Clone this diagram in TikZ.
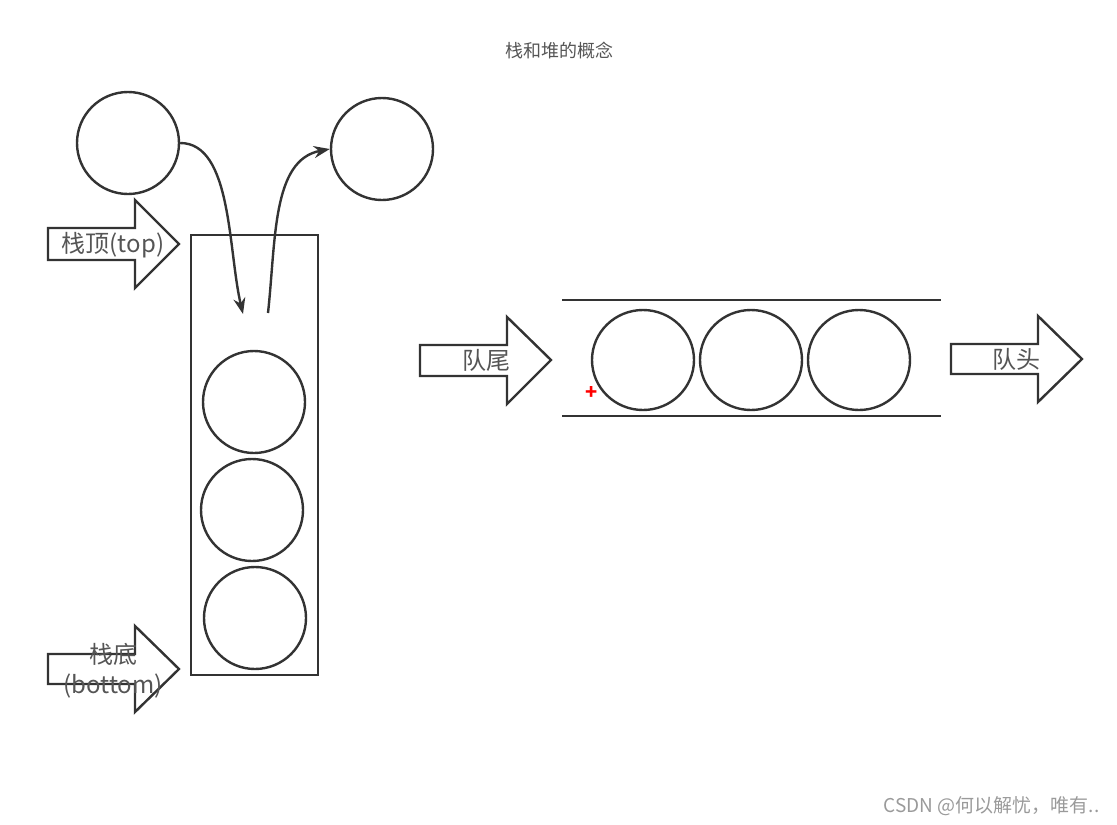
\documentclass[tikz,border=0pt]{standalone}
\usepackage{fontspec}
\setmainfont{Noto Sans CJK SC}
\usetikzlibrary{arrows.meta,shapes.geometric}
\definecolor{ink}{HTML}{333333}
\definecolor{txt}{HTML}{555555}
\definecolor{wm}{HTML}{9A9A9A}
\begin{document}
\begin{tikzpicture}[x=1pt,y=-1pt,
  ball/.style={draw=ink,line width=2.4pt,fill=white},
  barrow/.style={draw=ink,line width=2.4pt,fill=white,line join=miter},
  wall/.style={draw=ink,line width=2.4pt},
  lbl/.style={text=txt,font=\fontsize{24}{27}\selectfont,inner sep=0pt,align=center},
  flow/.style={draw=ink,line width=2.4pt,-{Stealth[length=16pt,width=12pt]}}]
\useasboundingbox (0,0) rectangle (1117,825);
% title
\node[text=txt,font=\fontsize{18}{20}\selectfont] (title) at (559,51) {栈和堆的概念};
% stack
\draw[wall] (191,235) rectangle (318,675);
\node[ball,circle,minimum size=102pt,inner sep=0pt] (s1) at (254,402) {};
\node[ball,circle,minimum size=102pt,inner sep=0pt] (s2) at (252,510) {};
\node[ball,circle,minimum size=102pt,inner sep=0pt] (s3) at (255,618) {};
% push / pop balls
\node[ball,circle,minimum size=102pt,inner sep=0pt] (in) at (128,143) {};
\node[ball,circle,minimum size=102pt,inner sep=0pt] (out) at (382,149) {};
\coordinate (pushend) at (243,314);
\coordinate (popstart) at (268,313);
\draw[flow] (in.east) .. controls (232,143) and (228,250) .. (pushend);
\draw[flow] (popstart) .. controls (276,240) and (272,160) .. (out.west);
% block arrows of stack
\draw[barrow] (48,228)--(135,228)--(135,200)--(179,244)--(135,288)--(135,260)--(48,260)--cycle;
\node[lbl] (top) at (113,245) {栈顶(top)};
\draw[barrow] (48,654)--(135,654)--(135,626)--(179,669)--(135,712)--(135,684)--(48,684)--cycle;
\node[lbl,font=\fontsize{24}{30}\selectfont] (bottom) at (113,671) {栈底\\(bottom)};
% queue
\draw[wall] (562,300) -- (941,300);
\draw[wall] (562,416) -- (941,416);
\node[ball,ellipse,minimum width=102pt,minimum height=100pt,inner sep=0pt] (q1) at (643,360) {};
\node[ball,ellipse,minimum width=102pt,minimum height=100pt,inner sep=0pt] (q2) at (751,360) {};
\node[ball,ellipse,minimum width=102pt,minimum height=100pt,inner sep=0pt] (q3) at (859,360) {};
\draw[barrow] (420,345)--(507,345)--(507,317)--(551,360)--(507,404)--(507,376)--(420,376)--cycle;
\node[lbl] (tail) at (486,360) {队尾};
\draw[barrow] (951,344)--(1038,344)--(1038,316)--(1082,359)--(1038,402)--(1038,374)--(951,374)--cycle;
\node[lbl] (head) at (1016,359) {队头};
\node[text=red,font=\fontsize{20}{20}\selectfont\bfseries,inner sep=0pt] (plus) at (592,393) {+};
% watermark
\node[text=wm,font=\fontsize{19}{22}\selectfont,anchor=east] (mark) at (1103,806) {CSDN @何以解忧，唯有..};
\end{tikzpicture}
\end{document}
